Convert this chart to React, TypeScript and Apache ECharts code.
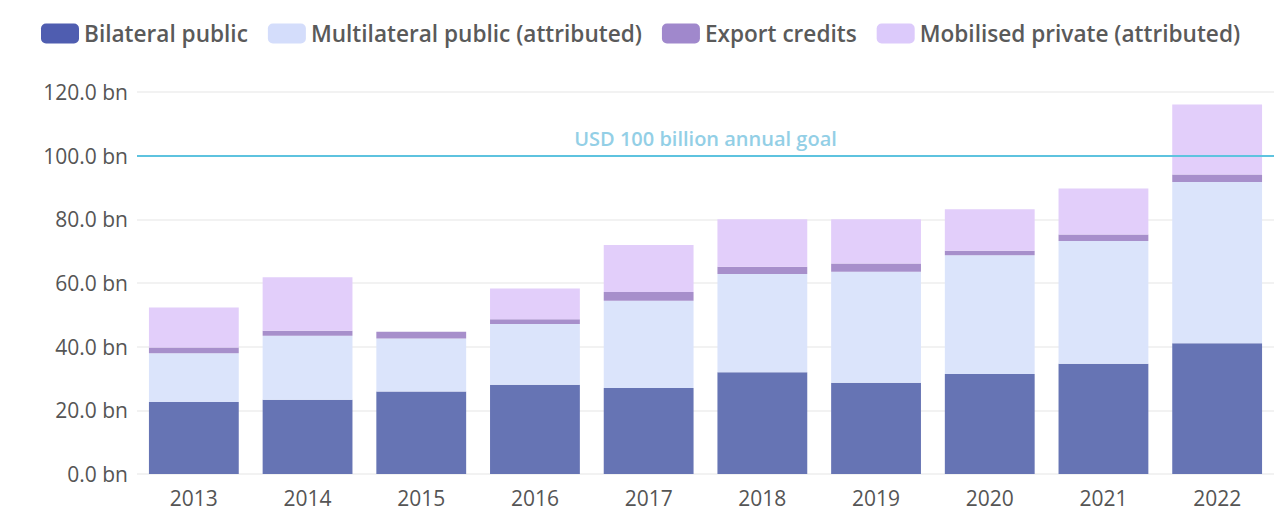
import React, { useEffect, useRef } from "react";
import * as echarts from "echarts";

const years = ["2013", "2014", "2015", "2016", "2017", "2018", "2019", "2020", "2021", "2022"];
const bilateral = [22.6, 23.3, 25.9, 28.0, 27.0, 32.0, 28.7, 31.4, 34.6, 41.1];
const multilateral = [15.3, 20.1, 16.7, 19.1, 27.4, 30.8, 34.8, 37.3, 38.6, 50.6];
const exportCredits = [1.8, 1.6, 2.1, 1.5, 2.8, 2.3, 2.6, 1.4, 2.0, 2.4];
const mobilisedPrivate: (number | null)[] = [12.6, 16.8, null, 9.7, 14.7, 14.9, 13.9, 13.1, 14.5, 22.0];
const goalValue = 100;
const goalLabel = "USD 100 billion annual goal";
const seriesNames = [
  "Bilateral public",
  "Multilateral public (attributed)",
  "Export credits",
  "Mobilised private (attributed)",
];

const barColors = ["#6674b4", "#dbe4fb", "#a78fcb", "#e2cefa"];
const legendColors = ["#4f5db0", "#d4ddfb", "#a088cc", "#dccafb"];
const FONT = "'Open Sans', 'Noto Sans', sans-serif";

export default function App() {
  const ref = useRef<HTMLDivElement>(null);
  useEffect(() => {
    if (!ref.current) return;
    const chart = echarts.init(ref.current, undefined, { renderer: "svg" });
    const values = [bilateral, multilateral, exportCredits, mobilisedPrivate];
    chart.setOption({
      animation: false,
      backgroundColor: "#ffffff",
      textStyle: { fontFamily: FONT },
      legend: {
        left: 36,
        top: 17,
        itemWidth: 38,
        itemHeight: 20,
        itemGap: 20,
        icon: "roundRect",
        selectedMode: false,
        textStyle: { fontFamily: FONT, fontSize: 22.6, fontWeight: 600, color: "#5a5a5a" },
        data: seriesNames.map((n, i) => ({ name: n, itemStyle: { color: legendColors[i] } })),
      },
      grid: { left: 137, right: 14, top: 92, bottom: 39, containLabel: false },
      xAxis: {
        type: "category",
        data: years,
        axisLine: { show: false },
        axisTick: { show: false },
        axisLabel: { fontFamily: FONT, fontSize: 21, fontWeight: 500, color: "#555555", margin: 13 },
      },
      yAxis: {
        type: "value",
        min: 0,
        max: 120,
        interval: 20,
        axisLine: { show: false },
        axisTick: { show: false },
        splitLine: { lineStyle: { color: "#eeeeee", width: 1.5 } },
        axisLabel: {
          fontFamily: FONT,
          fontSize: 21,
          fontWeight: 500,
          color: "#555555",
          margin: 9,
          formatter: (v: number) => v.toFixed(1) + " bn",
        },
      },
      series: seriesNames.map((name, i) => ({
        name,
        type: "bar",
        stack: "total",
        barCategoryGap: "21%",
        itemStyle: { color: barColors[i] },
        data: values[i].map((v) => (v === null ? "-" : v)),
        markLine:
          i === 3
            ? {
                silent: true,
                symbol: ["none", "none"],
                lineStyle: { color: "#5ec3df", width: 2, type: "solid" },
                label: {
                  show: true,
                  position: "insideMiddleTop",
                  formatter: goalLabel,
                  color: "#93cfe6",
                  fontFamily: FONT,
                  fontSize: 20,
                  fontWeight: 600,
                  distance: 7,
                },
                data: [{ yAxis: goalValue }],
                z: 10,
              }
            : undefined,
      })),
    });
    return () => chart.dispose();
  }, []);
  return (
    <div
      ref={ref}
      style={{ position: "absolute", left: 0, top: 0, width: 1288, height: 513 }}
    />
  );
}
